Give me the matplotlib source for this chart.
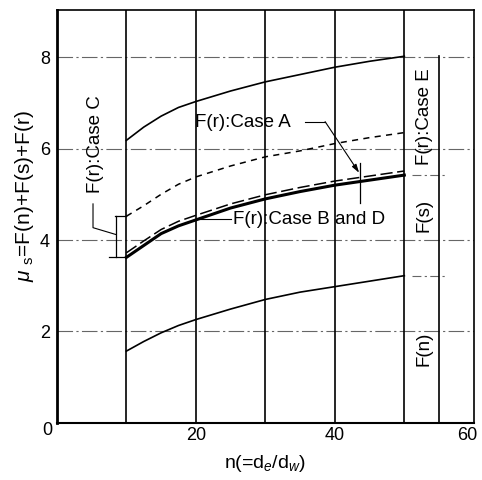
import matplotlib
matplotlib.use("Agg")
import matplotlib.pyplot as plt
import matplotlib.transforms as mtransforms

plt.rcParams['font.family'] = ['Liberation Sans', 'DejaVu Sans']
plt.rcParams['mathtext.fontset'] = 'custom'
plt.rcParams['mathtext.rm'] = 'Liberation Sans'
plt.rcParams['mathtext.it'] = 'Liberation Sans:italic'

# ---- data ----
n = [10, 12.5, 15, 17.5, 20, 25, 30, 35, 40, 45, 50]
total_E = [6.18, 6.47, 6.71, 6.90, 7.03, 7.26, 7.46, 7.62, 7.78, 7.91, 8.02]
case_C = [4.52, 4.75, 5.00, 5.22, 5.38, 5.62, 5.82, 5.95, 6.11, 6.24, 6.35]
case_A = [3.72, 3.98, 4.23, 4.41, 4.54, 4.79, 4.99, 5.15, 5.29, 5.40, 5.51]
case_BD = [3.62, 3.88, 4.14, 4.31, 4.44, 4.70, 4.90, 5.06, 5.20, 5.31, 5.42]
f_n = [1.57, 1.78, 1.97, 2.13, 2.26, 2.49, 2.70, 2.86, 2.98, 3.10, 3.22]

x_ticks = [20, 40, 60]
y_ticks = [2, 4, 6, 8]
v_grid = [10, 20, 30, 40, 50]

fig = plt.figure(figsize=(4.82, 4.80), dpi=100)
ax = fig.add_axes([0.118, 0.119, 0.865, 0.860])
ax.set_xlim(0, 60)
ax.set_ylim(0, 9.03)

# grid
for y in y_ticks:
    ax.plot([0, 60], [y, y], color='#666666', lw=0.8, dashes=(14, 3, 2, 3), zorder=1)
for x in v_grid:
    ax.axvline(x, color='black', lw=1.2, zorder=2)
ax.plot([55, 55], [0, total_E[-1]], color='black', lw=1.2, zorder=2)

# curves
ax.plot(n, total_E, color='black', lw=1.2, zorder=3)
ax.plot(n, case_C, color='black', lw=1.1, dashes=(4, 3.5), zorder=3)
ax.plot(n, case_A, color='black', lw=1.1, dashes=(8, 3), zorder=3)
ax.plot(n, case_BD, color='black', lw=2.2, zorder=3)
ax.plot(n, f_n, color='black', lw=1.2, zorder=3)

# right-side extension lines
for y in (case_BD[-1], f_n[-1]):
    ax.plot([51.1, 56.2], [y, y], color='#666666', lw=0.8, dashes=(8, 3, 2, 3), zorder=1)

fs = 13.5
# Case C annotation
ax.text(5.6, 6.10, 'F(r):Case C', rotation=90, ha='center', va='center', fontsize=fs)
ax.plot([5.2, 5.2, 8.5], [4.79, 4.27, 4.12], color='black', lw=0.8)
ax.plot([8.5, 8.5], [case_C[0], case_BD[0]], color='black', lw=0.9)
ax.plot([8.35, 10], [case_C[0], case_C[0]], color='black', lw=0.9)
ax.plot([7.5, 10], [case_BD[0], case_BD[0]], color='black', lw=0.9)

# Case A annotation
ax.text(19.9, 6.57, 'F(r):Case A', ha='left', va='center', fontsize=fs)
ax.plot([35.7, 38.6], [6.59, 6.59], color='black', lw=0.8)
ax.annotate('', xy=(43.5, 5.47), xytext=(38.6, 6.59),
            arrowprops=dict(arrowstyle='-|>,head_length=0.5,head_width=0.15',
                            color='black', lw=0.8, shrinkA=0, shrinkB=0))
ax.plot([43.6, 43.6], [5.69, 4.82], color='black', lw=0.9)

# Case B and D annotation
ax.plot([20.1, 25.1], [4.46, 4.46], color='black', lw=0.8)
ax.text(25.3, 4.44, 'F(r):Case B and D', ha='left', va='center', fontsize=fs)

# right column labels
ax.text(52.9, 6.69, 'F(r):Case E', rotation=90, ha='center', va='center', fontsize=fs)
ax.text(52.9, 4.53, 'F(s)', rotation=90, ha='center', va='center', fontsize=fs)
ax.text(52.8, 1.63, 'F(n)', rotation=90, ha='center', va='center', fontsize=fs)

# ticks
ax.set_xticks(x_ticks)
ax.set_xticklabels([str(v) for v in x_ticks], fontsize=13)
ax.set_yticks(y_ticks)
ax.set_yticklabels([str(v) for v in y_ticks], fontsize=13)
ax.tick_params(axis='both', length=0)
ax.tick_params(axis='x', pad=3)
ax.tick_params(axis='y', pad=5)
# keep the last x tick label inside the figure
last = ax.get_xticklabels()[-1]
last.set_transform(last.get_transform() +
                   mtransforms.ScaledTranslation(-5 / 72, 0, fig.dpi_scale_trans))
ax.text(-0.024, -0.019, '0', transform=ax.transAxes, ha='center', va='center', fontsize=13)

ax.set_xlabel('n(=d$_e$/d$_w$)', fontsize=14)
ax.xaxis.set_label_coords(0.5, -0.073)
ax.set_ylabel(r'$\mu$ $_{\rm s}$=F(n)+F(s)+F(r)', fontsize=15, va='center')
ax.yaxis.set_label_coords(-0.077, 0.55)

ax.spines['left'].set_linewidth(2.0)
ax.spines['bottom'].set_linewidth(1.5)
ax.spines['top'].set_linewidth(1.2)
ax.spines['right'].set_linewidth(1.2)

fig.savefig('out.png', dpi=100)
